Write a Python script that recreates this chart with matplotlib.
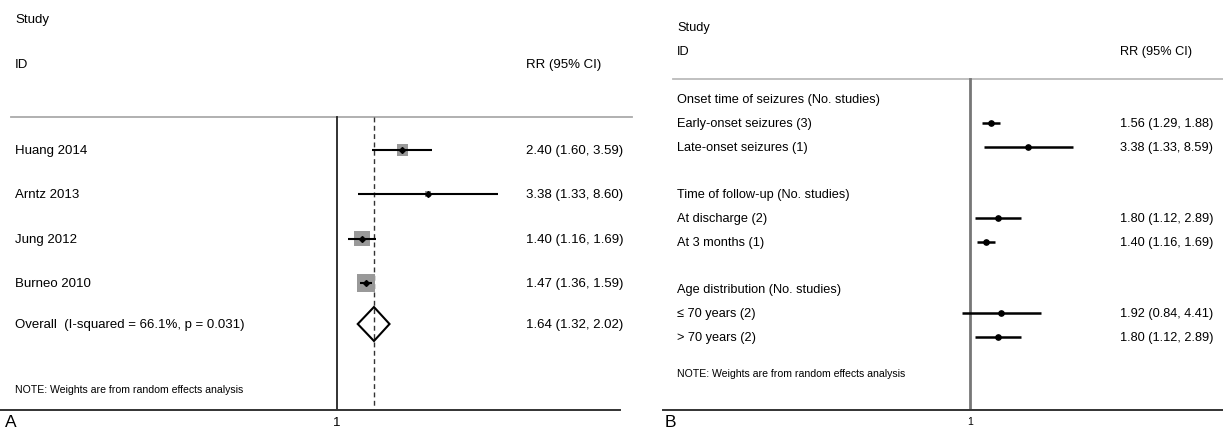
"""Forest plots: (A) pooled RR by study, (B) subgroup RR."""
import numpy as np
import matplotlib
matplotlib.use("Agg")
import matplotlib.pyplot as plt
from matplotlib.ticker import NullLocator

plt.rcParams["font.family"] = ["Liberation Sans", "DejaVu Sans"]

# ---- panel A data ----
a_studies = ["Huang 2014", "Arntz 2013", "Jung 2012", "Burneo 2010"]
a_rr = [2.40, 3.38, 1.40, 1.47]
a_lo = [1.60, 1.33, 1.16, 1.36]
a_hi = [3.59, 8.60, 1.69, 1.59]
a_weight = [17.5, 5.0, 32.0, 45.5]   # % random-effects weight (box size)
a_overall_label = "Overall  (I-squared = 66.1%, p = 0.031)"
a_overall = [1.64, 1.32, 2.02]

# ---- panel B data ----
b_labels = ["Onset time of seizures (No. studies)", "Early-onset seizures (3)",
            "Late-onset seizures (1)", "Time of follow-up (No. studies)",
            "At discharge (2)", "At 3 months (1)", "Age distribution (No. studies)",
            "\u2264 70 years (2)", "> 70 years (2)"]
b_rr = [None, 1.56, 3.38, None, 1.80, 1.40, None, 1.92, 1.80]
b_lo = [None, 1.29, 1.33, None, 1.12, 1.16, None, 0.84, 1.12]
b_hi = [None, 1.88, 8.59, None, 2.89, 1.69, None, 4.41, 2.89]
b_rows = [0, 1, 2, 4, 5, 6, 8, 9, 10]

NOTE = "NOTE: Weights are from random effects analysis"
W, H = 1223, 431
BOT = 411

fig = plt.figure(figsize=(W / 100, H / 100), dpi=100)
txt = fig.add_axes([0, 0, 1, 1])
txt.set_xlim(0, W)
txt.set_ylim(H, 0)
txt.axis("off")


def forest_axes(x0, x1, one_px, px_per_ln, tick_size):
    ax = fig.add_axes([x0 / W, (H - BOT) / H, (x1 - x0) / W, BOT / H])
    ax.set_xscale("log")
    ax.set_xlim(np.exp((x0 - one_px) / px_per_ln), np.exp((x1 - one_px) / px_per_ln))
    ax.set_ylim(BOT, 0)
    ax.patch.set_visible(False)
    for s in ["top", "left", "right"]:
        ax.spines[s].set_visible(False)
    ax.spines["bottom"].set_color("#333333")
    ax.spines["bottom"].set_linewidth(1.4)
    ax.set_yticks([])
    ax.set_xticks([1])
    ax.set_xticklabels(["1"])
    ax.xaxis.set_minor_locator(NullLocator())
    ax.tick_params(axis="x", length=0, pad=4, labelsize=tick_size)
    return ax


def fmt(rr, lo, hi):
    return f"{rr:.2f} ({lo:.2f}, {hi:.2f})"


# ================= panel A =================
axA = forest_axes(0, 620, 337, 74.7, 9.5)
a_y = 151 + 44.3 * np.arange(len(a_studies))
ov_y = 325
top_a = 118

axA.plot([1, 1], [top_a, BOT], color="#222222", lw=1.3)
axA.plot([a_overall[0]] * 2, [top_a, BOT], color="#333333", lw=1.0, ls=(0, (3.5, 2.5)))
side = 2.75 * np.sqrt(a_weight) * 0.72
axA.scatter(a_rr, a_y, marker="s", s=side ** 2, color="#999999", linewidths=0, zorder=2)
axA.hlines(a_y, a_lo, a_hi, color="black", lw=1.5, zorder=3)
axA.plot(a_rr, a_y, ls="none", marker="D", ms=3, color="black", zorder=4)
est, lo, hi = a_overall
axA.fill([lo, est, hi, est], [ov_y, ov_y - 17, ov_y, ov_y + 17],
         fill=False, edgecolor="black", lw=1.5, zorder=3)

txt.plot([11, 632], [top_a, top_a], color="#aaaaaa", lw=1.3)
fs = 9.5
txt.text(15, 20, "Study", fontsize=fs, va="center")
txt.text(15, 65, "ID", fontsize=fs, va="center")
txt.text(526, 65, "RR (95% CI)", fontsize=fs, va="center")
for name, y, r, l, h in zip(a_studies, a_y, a_rr, a_lo, a_hi):
    txt.text(15, y, name, fontsize=fs, va="center")
    txt.text(526, y, fmt(r, l, h), fontsize=fs, va="center")
txt.text(15, ov_y, a_overall_label, fontsize=fs, va="center")
txt.text(526, ov_y, fmt(*a_overall), fontsize=fs, va="center")
txt.text(15, 390, NOTE, fontsize=7.6, va="center")
txt.text(5, 430, "A", fontsize=12.5, va="bottom")

# ================= panel B =================
axB = forest_axes(663, W, 970, 48.0, 7.5)
top_b = 80
b_y = 100 + 23.8 * np.array(b_rows)
axB.plot([1, 1], [top_b, BOT], color="#777777", lw=2.0)
for y, r, l, h in zip(b_y, b_rr, b_lo, b_hi):
    if r is None:
        continue
    axB.hlines(y, l, h, color="black", lw=1.8)
    axB.plot(r, y, ls="none", marker="o", ms=3.8, color="black")

txt.plot([673, W], [top_b, top_b], color="#bbbbbb", lw=1.3)
fs = 9.2
txt.text(677, 28, "Study", fontsize=fs, va="center")
txt.text(677, 52, "ID", fontsize=fs, va="center")
txt.text(1120, 52, "RR (95% CI)", fontsize=fs, va="center")
for name, y, r, l, h in zip(b_labels, b_y, b_rr, b_lo, b_hi):
    txt.text(677, y, name, fontsize=fs, va="center")
    if r is not None:
        txt.text(1120, y, fmt(r, l, h), fontsize=fs, va="center")
txt.text(677, 374, NOTE, fontsize=7.6, va="center")
txt.text(665, 430, "B", fontsize=12.5, va="bottom")

fig.savefig("out.png", dpi=100)
